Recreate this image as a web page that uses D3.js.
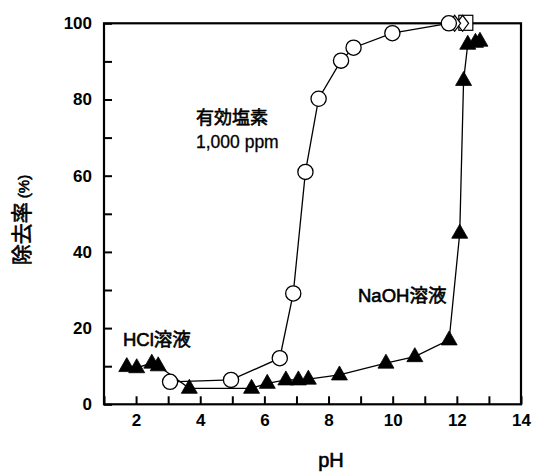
<!DOCTYPE html>
<html><head><meta charset="utf-8">
<script src="https://cdn.jsdelivr.net/npm/d3@7/dist/d3.min.js"></script>
<style>
body{margin:0;background:#fff;}
text{font-family:"Liberation Sans","Noto Sans CJK JP",Arial,sans-serif;fill:#000;}
</style></head>
<body><svg id="c" width="533" height="472"></svg>
<script>
// Chlorine (有効塩素 1,000 ppm) removal – open circles
const circlePH  = [3.06, 4.96, 6.48, 6.90, 7.28, 7.69, 8.39, 8.78, 9.99, 11.75];
const circleVal = [5.9, 6.4, 12.1, 29.1, 61.0, 80.2, 90.2, 93.6, 97.4, 100];
// filled triangles
const triPH  = [1.71, 2.02, 2.49, 2.69, 3.66, 5.60, 6.09, 6.67, 7.06, 7.37, 8.34, 9.79, 10.69, 11.76, 12.09, 12.21, 12.34, 12.58, 12.72];
const triVal = [9.9, 9.6, 10.8, 10.1, 4.2, 4.2, 5.5, 6.4, 6.4, 6.6, 7.7, 10.8, 12.5, 16.9, 44.9, 85.0, 94.5, 95.0, 95.3];
// overlapping extra markers at 100%
const squarePH = [12.28], squareVal = [100];
const diamondPH = [12.18, 11.93], diamondVal = [100, 100];
const xTicks = [1,2,3,4,5,6,7,8,9,10,11,12,13,14];
const yTicks = [0,10,20,30,40,50,60,70,80,90,100];

const svg = d3.select("#c");
const x = d3.scaleLinear().domain([1,14]).range([104,521]);
const y = d3.scaleLinear().domain([0,100]).range([404.3,23.3]);

// axes
const xa = svg.append("g").attr("transform",`translate(0,${y(0)})`)
  .call(d3.axisBottom(x).tickValues(xTicks).tickSize(-8).tickPadding(10)
    .tickFormat(d => d % 2 === 0 && d > 1 ? d : ""));
const ya = svg.append("g").attr("transform",`translate(${x(1)},0)`)
  .call(d3.axisLeft(y).tickValues(yTicks).tickSize(-8).tickPadding(12)
    .tickFormat(d => d % 20 === 0 ? d : ""));
[xa, ya].forEach(g => {
  g.select(".domain").remove();
  g.selectAll(".tick line").attr("stroke","#000").attr("stroke-width",2);
  g.selectAll(".tick text").attr("font-size",17).attr("font-weight","bold")
    .attr("font-family",'"Liberation Sans",Arial,sans-serif').attr("fill","#000");
});
// frame
svg.append("rect").attr("x",x(1)).attr("y",y(100))
  .attr("width",x(14)-x(1)).attr("height",y(0)-y(100))
  .attr("fill","none").attr("stroke","#000").attr("stroke-width",2.2);

const line = d3.line().x(d=>x(d[0])).y(d=>y(d[1]));
const triData = triPH.map((p,i)=>[p,triVal[i]]);
const cirData = circlePH.map((p,i)=>[p,circleVal[i]]);

svg.append("path").datum(triData).attr("d",line).attr("fill","none").attr("stroke","#000").attr("stroke-width",1.3);
svg.append("path").datum(cirData).attr("d",line).attr("fill","none").attr("stroke","#000").attr("stroke-width",1.3);

// extra markers
svg.selectAll(".sq").data(squarePH.map((p,i)=>[p,squareVal[i]])).enter().append("rect")
  .attr("x",d=>x(d[0])-7).attr("y",d=>y(d[1])-8).attr("width",14).attr("height",15)
  .attr("fill","#fff").attr("stroke","#000").attr("stroke-width",1.2);
svg.selectAll(".dm").data(diamondPH.map((p,i)=>[p,diamondVal[i]])).enter().append("path")
  .attr("d",d=>{const cx=x(d[0]),cy=y(d[1]);return `M${cx-6},${cy}L${cx},${cy-8}L${cx+6},${cy}L${cx},${cy+8}Z`;})
  .attr("fill","#fff").attr("stroke","#000").attr("stroke-width",1.2);

// triangles
svg.selectAll(".tri").data(triData).enter().append("path")
  .attr("d",d=>{const cx=x(d[0]),cy=y(d[1]);return `M${cx},${cy-9}L${cx+8},${cy+5}L${cx-8},${cy+5}Z`;})
  .attr("fill","#000").attr("stroke","#000").attr("stroke-width",0.8);
// circles
svg.selectAll(".cir").data(cirData).enter().append("circle")
  .attr("cx",d=>x(d[0])).attr("cy",d=>y(d[1])).attr("r",7.6)
  .attr("fill","#fff").attr("stroke","#000").attr("stroke-width",1.3);

// annotations
function ann(tx,ty,fs,s){
  return svg.append("text").attr("x",tx).attr("y",ty).attr("font-size",fs)
    .attr("stroke","#000").attr("stroke-width",0.6).text(s);
}
ann(196,124,18,"有効塩素");
ann(196,148,17.5,"1,000 ppm").attr("stroke-width",0.3);
ann(123,346,18.5,"HCl溶液");
ann(358,302,18.5,"NaOH溶液");

// axis titles
svg.append("text").attr("x",331).attr("y",467).attr("text-anchor","middle")
  .attr("font-size",20).attr("stroke","#000").attr("stroke-width",0.6).text("pH");
const yl = svg.append("text").attr("transform","translate(29,220) rotate(-90)")
  .attr("text-anchor","middle").attr("stroke","#000").attr("stroke-width",0.6);
yl.append("tspan").attr("font-size",21).text("除去率");
yl.append("tspan").attr("font-size",15).attr("dx",4).text("(%)");
</script></body></html>
